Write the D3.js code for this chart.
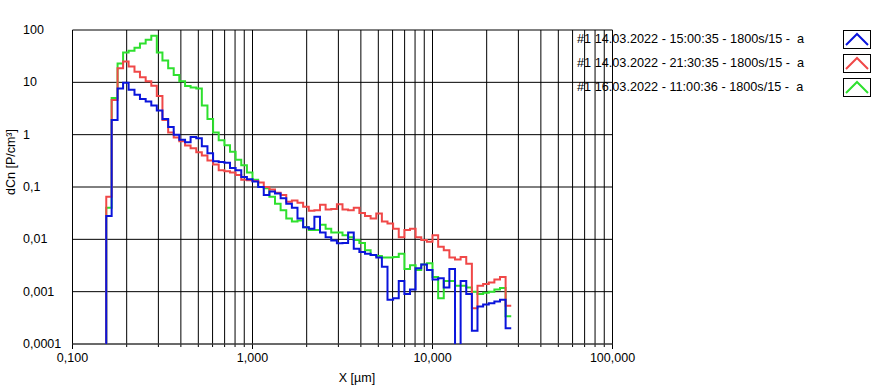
<!DOCTYPE html>
<html>
<head>
<meta charset="utf-8">
<script src="https://cdn.jsdelivr.net/npm/d3@7"></script>
<style>
  body { margin: 0; background: #fff; }
  text { font-family: Arial, "Liberation Sans", sans-serif; font-size: 12.5px; fill: #000; }
  text.legend { font-size: 12.7px; }
</style>
</head>
<body>
<div id="viz"></div>
<script>
const width = 885;
const height = 392;
const plot = { left: 72.5, right: 612.5, top: 30, bottom: 344 };

// channel edges (µm), 72 channels
const edges = [0.154, 0.165, 0.178, 0.191, 0.205, 0.221, 0.237, 0.255, 0.274, 0.294,
    0.316, 0.340, 0.365, 0.392, 0.422, 0.453, 0.487, 0.523, 0.562, 0.604,
    0.649, 0.698, 0.750, 0.806, 0.866, 0.931, 1.000, 1.075, 1.155, 1.241,
    1.334, 1.433, 1.540, 1.655, 1.778, 1.911, 2.054, 2.207, 2.371, 2.548,
    2.738, 2.943, 3.162, 3.398, 3.652, 3.924, 4.217, 4.532, 4.870, 5.233,
    5.623, 6.043, 6.494, 6.978, 7.499, 8.058, 8.660, 9.306, 10.00, 10.75,
    11.55, 12.41, 13.34, 14.33, 15.40, 16.55, 17.78, 19.11, 20.54, 22.07,
    23.71, 25.48, 27.38];

const blueValues = [0.028, 1.9, 7.6, 9.8, 7.2, 5.8, 4.8, 4.3, 3.6, 2.9,
    2.0, 1.4, 1.0, 0.8, 0.72, 0.9, 0.85, 0.6, 0.44, 0.31,
    0.3, 0.29, 0.23, 0.21, 0.155, 0.14, 0.127, 0.1, 0.07, 0.082,
    0.075, 0.061, 0.048, 0.04, 0.025, 0.017, 0.016, 0.027, 0.0135, 0.011,
    0.0095, 0.0084, 0.0085, 0.0135, 0.0066, 0.0057, 0.0053, 0.005, 0.0045, 0.003,
    0.0007, 0.00075, 0.0016, 0.0009, 0.0011, 0.0028, 0.0033, 0.0026, 0.0017, 0.0018,
    0.0012, 0.0027, 0, 0.0016, 0.0009, 0.00018, 0.00052, 0.00057, 0.0006, 0.00065, 0.0007, 0.0002];

const redValues = [0.065, 4.6, 18.5, 25, 20, 16, 12.5, 10.5, 8.6, 5.5,
    1.9, 1.1, 0.88, 0.75, 0.62, 0.55, 0.46, 0.4, 0.32, 0.27,
    0.21, 0.2, 0.19, 0.17, 0.137, 0.135, 0.13, 0.122, 0.1, 0.09,
    0.078, 0.07, 0.052, 0.055, 0.05, 0.042, 0.035, 0.036, 0.046, 0.037,
    0.038, 0.047, 0.037, 0.036, 0.04, 0.032, 0.028, 0.025, 0.031, 0.022,
    0.02, 0.016, 0.011, 0.015, 0.016, 0.011, 0.0097, 0.009, 0.012, 0.0072,
    0.0062, 0.0045, 0.0041, 0.0046, 0.0034, 0.00048, 0.0013, 0.0014, 0.0015, 0.0017, 0.0019, 0.00054];

const greenValues = [0.04, 5.0, 23, 37, 40, 46, 55, 65, 78, 37,
    26, 18.5, 13.8, 10.5, 8.5, 8.0, 7.6, 3.6, 2.0, 1.1,
    0.78, 0.63, 0.47, 0.33, 0.26, 0.19, 0.137, 0.1, 0.095, 0.065,
    0.048, 0.036, 0.025, 0.022, 0.023, 0.017, 0.015, 0.015, 0.019, 0.016,
    0.0135, 0.0135, 0.012, 0.011, 0.0097, 0.0085, 0.0062, 0.005, 0.0048, 0.0045,
    0.0045, 0.0046, 0.0053, 0.0027, 0.0032, 0.0026, 0.0033, 0.0035, 0.0019, 0.00075,
    0.0016, 0.0016, 0.0013, 0.0013, 0.0012, 0.001, 0.0009, 0.00095, 0.001, 0.0011, 0.00118, 0.00034];

const seriesNames = [
    "#1 14.03.2022 - 15:00:35 - 1800s/15 -  a",
    "#1 14.03.2022 - 21:30:35 - 1800s/15 -  a",
    "#1 16.03.2022 - 11:00:36 - 1800s/15 -  a",
];
const seriesColors = ["#0a14dc", "#f04848", "#2ee02e"];

const xGridValues = [0.1, 0.2, 0.3, 0.4, 0.5, 0.6, 0.7, 0.8, 0.9,
    1, 2, 3, 4, 5, 6, 7, 8, 9, 10, 20, 30, 40, 50, 60, 70, 80, 90, 100];
const xLabelValues = [0.1, 1, 10, 100];
const xLabels = ["0,100", "1,000", "10,000", "100,000"];
const yTickValues = [100, 10, 1, 0.1, 0.01, 0.001, 0.0001];
const yLabels = ["100", "10", "1", "0,1", "0,01", "0,001", "0,0001"];

const svg = d3.select('#viz')
    .append("svg")
    .attr('width', width)
    .attr('height', height);

const xScale = d3.scaleLog()
    .domain([0.1, 100])
    .range([plot.left, plot.right]);

const yScale = d3.scaleLog()
    .domain([0.0001, 100])
    .range([plot.bottom, plot.top]);

// grid
const grid = svg.append("g");
grid.selectAll("line.vx")
    .data(xGridValues)
    .enter()
    .append("line")
    .attr("x1", d => xScale(d)).attr("x2", d => xScale(d))
    .attr("y1", plot.top).attr("y2", plot.bottom)
    .attr("stroke", "#000").attr("stroke-width", 1);

grid.selectAll("line.hy")
    .data(yTickValues)
    .enter()
    .append("line")
    .attr("x1", plot.left).attr("x2", plot.right)
    .attr("y1", d => yScale(d)).attr("y2", d => yScale(d))
    .attr("stroke", "#000").attr("stroke-width", 1);

// bottom tick marks
svg.append("g").selectAll("line")
    .data(xGridValues)
    .enter()
    .append("line")
    .attr("x1", d => xScale(d)).attr("x2", d => xScale(d))
    .attr("y1", plot.bottom).attr("y2", d => plot.bottom + (xLabelValues.includes(d) ? 5 : 3))
    .attr("stroke", "#000");

svg.append("line")
    .attr("x1", plot.left).attr("x2", plot.right)
    .attr("y1", plot.bottom).attr("y2", plot.bottom)
    .attr("stroke", "#555");

// tick labels
svg.append("g").selectAll("text")
    .data(xLabelValues)
    .enter()
    .append("text")
    .attr("x", d => xScale(d))
    .attr("y", 362)
    .attr("text-anchor", "middle")
    .text((d, i) => xLabels[i]);

svg.append("g").selectAll("text")
    .data(yTickValues)
    .enter()
    .append("text")
    .attr("x", 23)
    .attr("y", d => yScale(d) + 4)
    .text((d, i) => yLabels[i]);

svg.append("text")
    .attr("x", 357)
    .attr("y", 382)
    .attr("text-anchor", "middle")
    .text("X [µm]");

svg.append("text")
    .attr("transform", "translate(15, 162) rotate(-90)")
    .attr("text-anchor", "middle")
    .text("dCn [P/cm³]");

// clip for the step lines
svg.append("clipPath").attr("id", "plotClip")
    .append("rect")
    .attr("x", plot.left).attr("y", plot.top - 2)
    .attr("width", plot.right - plot.left).attr("height", plot.bottom - plot.top + 2);

const yOf = v => v > 0 ? yScale(v) : plot.bottom + 10;

const line = d3.line()
    .x(d => xScale(d[0]))
    .y(d => yOf(d[1]))
    .curve(d3.curveStepAfter);

const allSeries = [blueValues, redValues, greenValues];
const drawOrder = [2, 1, 0];

const lines = svg.append("g").attr("clip-path", "url(#plotClip)");
drawOrder.forEach(i => {
    const vals = allSeries[i];
    const pts = [[edges[0], 0]];
    vals.forEach((v, j) => pts.push([edges[j], v]));
    pts.push([edges[edges.length - 1], vals[vals.length - 1]]);
    lines.append("path")
        .datum(pts)
        .attr("fill", "none")
        .attr("stroke", seriesColors[i])
        .attr("stroke-width", 2)
        .attr("d", line);
});

// legend
const legend = svg.append("g");
seriesNames.forEach((name, i) => {
    const y0 = 30 + i * 24;
    legend.append("text")
        .attr("class", "legend")
        .attr("x", 577)
        .attr("y", y0 + 12.5)
        .attr("xml:space", "preserve")
        .style("white-space", "pre")
        .text(name);
    legend.append("rect")
        .attr("x", 843.5).attr("y", y0 + 0.5)
        .attr("width", 27).attr("height", 18)
        .attr("fill", "#fff").attr("stroke", "#000");
    legend.append("path")
        .attr("d", `M ${846} ${y0 + 15} L ${857} ${y0 + 4} L ${868} ${y0 + 15}`)
        .attr("fill", "none")
        .attr("stroke", seriesColors[i])
        .attr("stroke-width", 2);
});
</script>
</body>
</html>
